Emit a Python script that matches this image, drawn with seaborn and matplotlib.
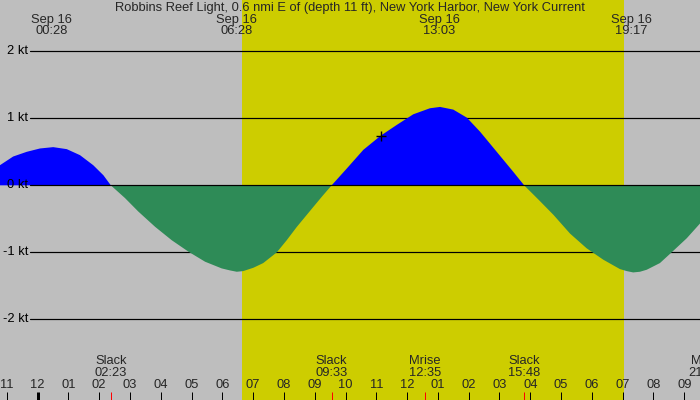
import numpy as np
import pandas as pd
import matplotlib
matplotlib.use("Agg")
import matplotlib.pyplot as plt
import seaborn as sns

# --- data (hours after midnight Sep 16, knots) ---
hours = [-1.22, -0.79, -0.35, 0.08, 0.51, 0.95, 1.38, 1.81, 2.14, 2.38,
         2.84, 3.27, 3.82, 4.36, 4.90, 5.44, 5.98, 6.25, 6.47, 6.68, 7.01, 7.33,
         7.77, 8.09, 8.42, 8.96, 9.25, 9.55,
         10.04, 10.58, 11.14, 11.66, 12.20, 12.74, 13.07, 13.50, 13.94, 14.37,
         14.91, 15.45, 15.80,
         16.28, 16.75, 17.29, 17.83, 18.37, 18.91, 19.13, 19.34, 19.56, 19.78,
         20.21, 20.59, 21.08, 21.51]
knots = [0.30, 0.43, 0.50, 0.55, 0.57, 0.54, 0.45, 0.30, 0.15, 0.0,
         -0.19, -0.39, -0.62, -0.82, -0.99, -1.14, -1.24, -1.27, -1.29, -1.28, -1.23, -1.16,
         -1.00, -0.82, -0.62, -0.32, -0.16, 0.0,
         0.25, 0.53, 0.74, 0.90, 1.06, 1.15, 1.17, 1.13, 1.01, 0.80,
         0.50, 0.20, 0.0,
         -0.22, -0.44, -0.72, -0.94, -1.11, -1.25, -1.28, -1.30, -1.29, -1.26,
         -1.16, -1.00, -0.79, -0.57]

levels = [2, 1, 0, -1, -2]
level_labels = ["2 kt", "1 kt", "0 kt", "-1 kt", "-2 kt"]

extreme_times = [0.467, 6.467, 13.05, 19.283]
extreme_labels = ["00:28", "06:28", "13:03", "19:17"]

event_times = [2.383, 9.55, 12.583, 15.8, 21.667]
event_names = ["Slack", "Slack", "Mrise", "Slack", "Mset"]
event_labels = ["02:23", "09:33", "12:35", "15:48", "21:40"]

now_time, now_knots = 11.16, 0.73
sunrise, sunset = 6.63, 19.03

title = "Robbins Reef Light, 0.6 nmi E of (depth 11 ft), New York Harbor, New York Current"

GRAY = "#BEBEBE"
YELLOW = "#CDCD00"
BLUE = "#0000FF"
GREEN = "#2E8B57"
FS = 9.3

sns.set_theme(style="white")
plt.rcParams["font.family"] = ["Liberation Sans", "DejaVu Sans"]

df = pd.DataFrame({"hour": hours, "knots": knots})

fig = plt.figure(figsize=(7, 4), dpi=100)
fig.patch.set_facecolor(GRAY)
ax = fig.add_axes([0, 0, 1, 1])
ax.set_xlim(-1.218, 21.51)
ax.set_ylim(-3.204, 2.766)
ax.set_axis_off()

ax.axvspan(sunrise, sunset, color=YELLOW, lw=0, zorder=0)

px = 0.72
for lv, lab in zip(levels, level_labels):
    ax.axhline(lv, xmin=30 / 700, color="black", lw=px * 1.2, zorder=3 if lv == 0 else 1)
    ax.text(28 / 700, lv, lab, transform=ax.get_yaxis_transform(), ha="right",
            va="center", fontsize=FS, color="black", zorder=4)

ax.fill_between(df["hour"], df["knots"], 0, where=df["knots"] >= 0,
                interpolate=True, color=BLUE, lw=0, zorder=2)
ax.fill_between(df["hour"], df["knots"], 0, where=df["knots"] <= 0,
                interpolate=True, color=GREEN, lw=0, zorder=2)

sns.scatterplot(x=[now_time], y=[now_knots], marker="+", s=60, color="black",
                linewidth=1, ax=ax, zorder=5)

xt = ax.get_xaxis_transform()
ax.text(0.5, 1 - 7.5 / 400, title, transform=ax.transAxes, ha="center",
        va="center", fontsize=FS)
for t, lab in zip(extreme_times, extreme_labels):
    ax.text(t, 1 - 20 / 400, "Sep 16", transform=xt, ha="center", va="center", fontsize=FS)
    ax.text(t, 1 - 31.5 / 400, lab, transform=xt, ha="center", va="center", fontsize=FS)

# hour ticks along the bottom
for h in range(-1, 22):
    ax.plot([h, h], [0, 8.5 / 400], transform=xt, color="black",
            lw=px * (3 if h == 0 else 1), solid_capstyle="butt", zorder=4)
    ax.text(h, 15 / 400, f"{(h % 12) or 12:02d}", transform=xt, ha="center",
            va="center", fontsize=FS)

for t, name, lab in zip(event_times, event_names, event_labels):
    ax.plot([t, t], [0, 8.5 / 400], transform=xt, color="red", lw=px,
            solid_capstyle="butt", zorder=4)
    ax.text(t, 38.5 / 400, name, transform=xt, ha="center", va="center", fontsize=FS)
    ax.text(t, 26.5 / 400, lab, transform=xt, ha="center", va="center", fontsize=FS)

fig.savefig("out.png", dpi=100, facecolor=GRAY)
plt.close(fig)
